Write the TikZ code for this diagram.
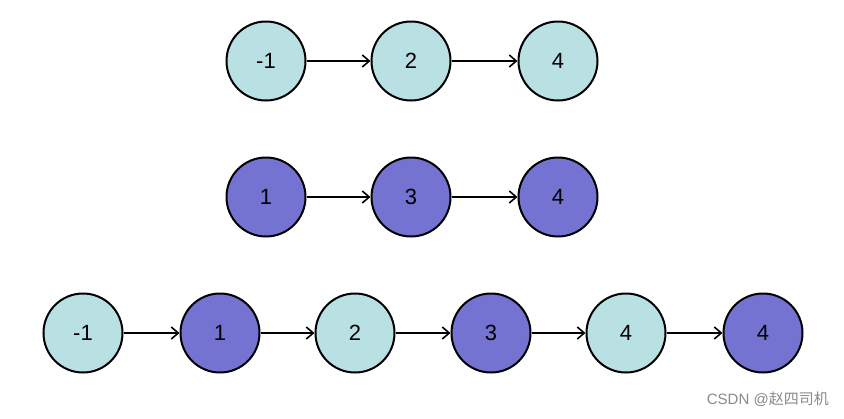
\documentclass[tikz,border=0pt]{standalone}
\usepackage{fontspec}
\setmainfont{Liberation Sans}
\newfontfamily\cjk{Noto Sans CJK SC}
\usetikzlibrary{arrows.meta}
\definecolor{lcyan}{HTML}{B9E0E3}
\definecolor{lpurp}{HTML}{7473D1}
\definecolor{wm}{HTML}{8A8A8A}
\begin{document}
\begin{tikzpicture}[x=1pt,y=-1pt,
  lnode/.style={circle,draw=black,line width=2pt,minimum size=79pt,inner sep=0pt,font=\fontsize{22}{26}\selectfont},
  cy/.style={lnode,fill=lcyan},
  pu/.style={lnode,fill=lpurp},
  link/.style={line width=1.6pt,-{Straight Barb[length=7pt,width=12pt,line width=1.6pt]}}]
\useasboundingbox[fill=white] (0,0) rectangle (844,418);
% row 1
\node[cy] (a1) at (266,61) {-1};
\node[cy] (a2) at (411,61) {2};
\node[cy] (a3) at (558,61) {4};
% row 2
\node[pu] (b1) at (266,197) {1};
\node[pu] (b2) at (411,197) {3};
\node[pu] (b3) at (558,197) {4};
% row 3
\node[cy] (c1) at (83,333) {-1};
\node[pu] (c2) at (220,333) {1};
\node[cy] (c3) at (355,333) {2};
\node[pu] (c4) at (491,333) {3};
\node[cy] (c5) at (626,333) {4};
\node[pu] (c6) at (763,333) {4};
\draw[link] (a1) -- (a2);
\draw[link] (a2) -- (a3);
\draw[link] (b1) -- (b2);
\draw[link] (b2) -- (b3);
\draw[link] (c1) -- (c2);
\draw[link] (c2) -- (c3);
\draw[link] (c3) -- (c4);
\draw[link] (c4) -- (c5);
\draw[link] (c5) -- (c6);
\node[anchor=east,text=wm,font=\fontsize{15}{17}\selectfont,inner sep=0pt] (wmk) at (829,399) {CSDN @{\cjk 赵四司机}};
\end{tikzpicture}
\end{document}
